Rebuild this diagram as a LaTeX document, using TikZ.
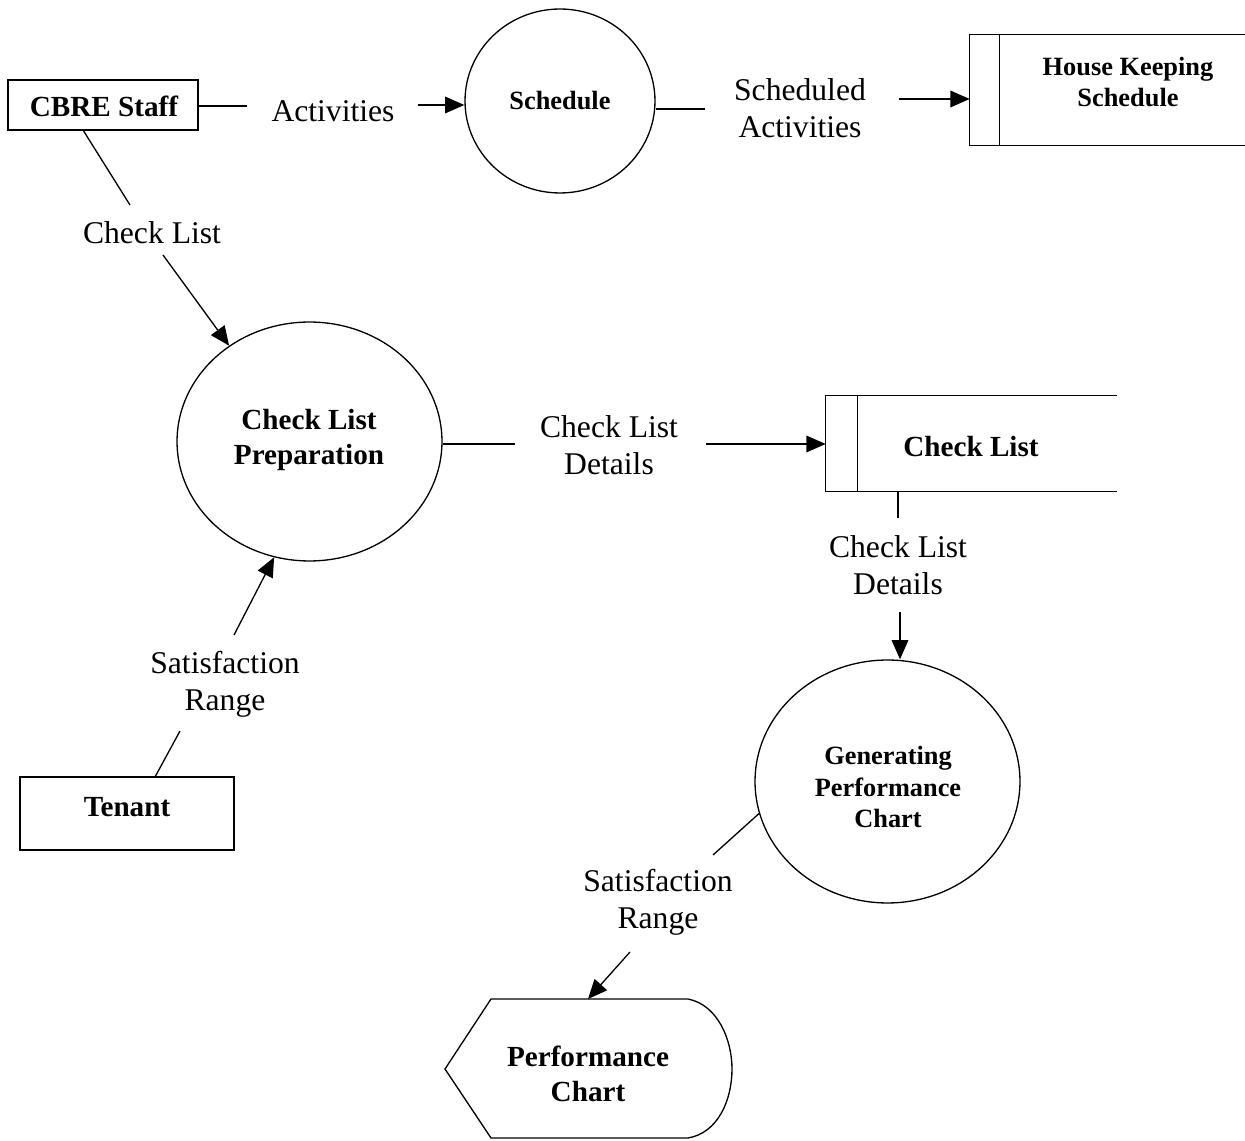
\documentclass[tikz,border=0pt]{standalone}
\usepackage{fontspec}
\setmainfont{Liberation Serif}
\usetikzlibrary{arrows.meta,shapes.geometric}

\tikzset{
  flow/.style={line width=0.75pt,-{Triangle[length=11pt,width=9.5pt]}},
  plain/.style={line width=0.75pt},
  entity/.style={draw,line width=0.75pt,rectangle,inner sep=0pt},
  process/.style={draw,line width=0.75pt,ellipse,inner sep=0pt},
  storebox/.style={rectangle,inner sep=0pt},
  lbl/.style={align=center,inner sep=0pt,font=\fontsize{18}{21}\selectfont},
  big/.style={align=center,inner sep=0pt,font=\fontsize{16.6}{20.3}\selectfont\bfseries},
  small/.style={align=center,inner sep=0pt,font=\fontsize{15}{18}\selectfont\bfseries},
}

\begin{document}
\begin{tikzpicture}[x=0.02cm,y=-0.02cm]
\useasboundingbox (0,0) rectangle (1245,1141);

% external entities
\node[entity,minimum width=3.8cm,minimum height=1.0cm] (cbre) at (103,105) {};
\node[big] (cbret) at (104,106) {CBRE Staff};
\node[entity,minimum width=4.28cm,minimum height=1.46cm] (tenant) at (127,813.5) {};
\node[big] (tenantt) at (127,807) {Tenant};

% processes
\node[process,minimum width=3.8cm,minimum height=3.68cm] (sched) at (560,101) {};
\node[small] (schedt) at (560,101) {Schedule};
\node[process,minimum width=5.3cm,minimum height=4.78cm] (prep) at (309.5,441.5) {};
\node[big] (prept) at (309,440) {Check List\\Preparation};
\node[process,minimum width=5.3cm,minimum height=4.86cm] (gen) at (887.5,781.5) {};
\node[small] (gent) at (888,787) {Generating\\Performance\\Chart};

% data stores (open on the right)
\node[storebox,minimum width=5.5cm,minimum height=2.2cm] (hks) at (1107.5,90) {};
\draw[plain] (hks.north east) -- (hks.north west) -- (hks.south west) -- (hks.south east);
\draw[plain] ([xshift=0.6cm]hks.north west) -- ([xshift=0.6cm]hks.south west);
\node[small] (hkst) at (1128,82) {House Keeping\\Schedule};

\node[storebox,minimum width=5.82cm,minimum height=1.9cm] (cls) at (971.5,443.5) {};
\draw[plain] (cls.north east) -- (cls.north west) -- (cls.south west) -- (cls.south east);
\draw[plain] ([xshift=0.64cm]cls.north west) -- ([xshift=0.64cm]cls.south west);
\node[big] (clst) at (971,447) {Check List};

% display
\draw[plain] (445,1069) -- (491,999) -- (688,999)
  .. controls (718,1005) and (732,1040) .. (732,1069)
  .. controls (732,1100) and (718,1133) .. (688,1138) -- (491,1138) -- cycle;
\coordinate (pctop) at (588,999);
\node[big] (pct) at (588,1074) {Performance\\Chart};

% flow labels
\node[lbl] (l1) at (333,111) {Activities};
\node[lbl] (l2) at (800,108) {Scheduled\\Activities};
\node[lbl] (l3) at (152,233) {Check List};
\node[lbl] (l4) at (609,445) {Check List\\Details};
\node[lbl] (l5) at (898,565) {Check List\\Details};
\node[lbl] (l6) at (225,684) {Satisfaction\\Range};
\node[lbl] (l7) at (658,902) {Satisfaction\\Range};

% flow line ends
\coordinate (a1) at (247,106);  \coordinate (a2) at (418,105);
\coordinate (b1) at (705,109);  \coordinate (b2) at (899,99);
\coordinate (c0) at (83,130);   \coordinate (c1) at (130,205); \coordinate (c2) at (163,255);
\coordinate (d1) at (515,444);  \coordinate (d2) at (706,444);
\coordinate (e1) at (898,518);  \coordinate (e2) at (900,612);
\coordinate (f0) at (155,777);  \coordinate (f1) at (180,731); \coordinate (f2) at (234,635);
\coordinate (g1) at (713,855);  \coordinate (g2) at (630,952);

% flows
\draw[plain] (cbre.east |- a1) -- (a1);
\draw[flow] (a2) -- (a2 -| sched.west);
\draw[plain] (sched.east |- b1) -- (b1);
\draw[flow] (b2) -- (b2 -| hks.west);
\draw[plain] (c0) -- (c1);
\draw[flow] (c2) -- (prep.130);
\draw[plain] (prep.east |- d1) -- (d1);
\draw[flow] (d2) -- (d2 -| cls.west);
\draw[plain] (cls.south -| e1) -- (e1);
\draw[flow] (e2) -- (e2 |- gen.north);
\draw[plain] (f0) -- (f1);
\draw[flow] (f2) -- (prep.-107);
\draw[plain] (gen.194) -- (g1);
\draw[flow] (g2) -- (pctop);
\end{tikzpicture}
\end{document}
